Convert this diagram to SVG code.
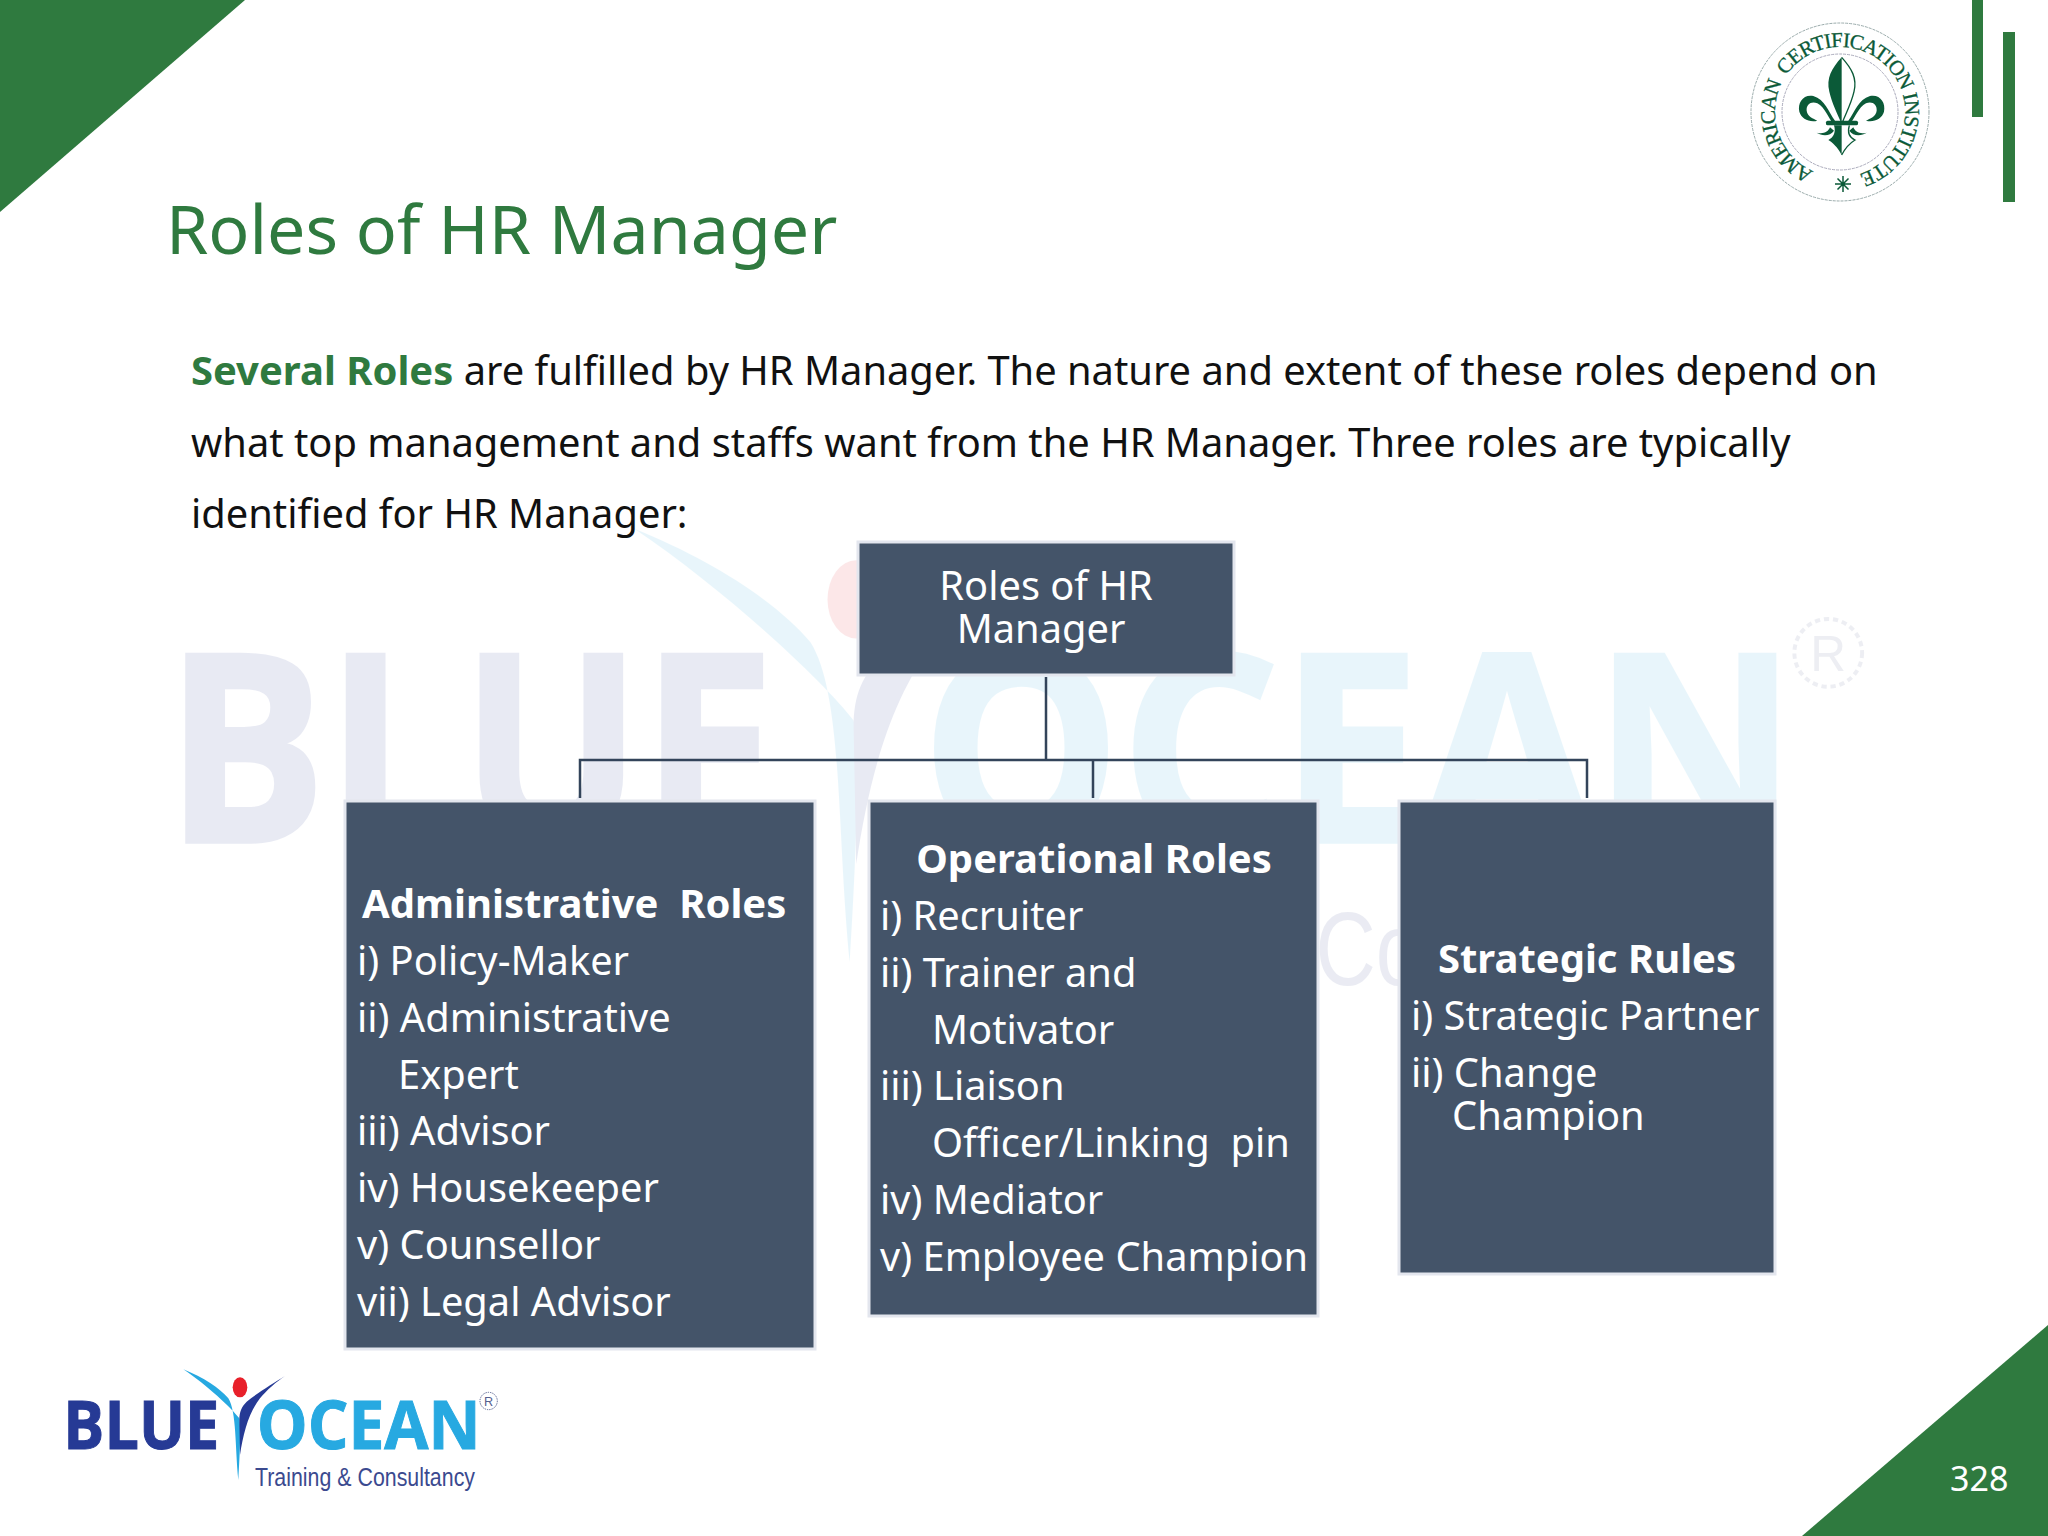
<svg xmlns="http://www.w3.org/2000/svg" xmlns:xlink="http://www.w3.org/1999/xlink" width="2048" height="1536" viewBox="0 0 2048 1536">
<style>
text{font-family:"Noto Sans","Open Sans",sans-serif;white-space:pre}
.g{fill:#2f7a3f}
.title{font-size:68.100px;fill:#2f7a3f}
.body{font-size:39.830px;fill:#111}
.box{fill:#445469;stroke:#e3e6ee;stroke-width:3}
.t{font-size:39.800px;fill:#fff}
.b{font-weight:700;font-size:40px}
.c{text-anchor:middle}
.conn{fill:none;stroke:#33445a;stroke-width:2.500}
.seal{fill:#0b5a38}
.logoB{font-family:"Open Sans",sans-serif;font-weight:700;font-size:201px;stroke-width:3}
</style>
<defs>
<g id="logoArt">
<text class="logoB" x="70" y="328" textLength="468" lengthAdjust="spacingAndGlyphs" fill="#263a95" stroke="#263a95">BLUE</text>
<text class="logoB" x="650" y="328" textLength="672" lengthAdjust="spacingAndGlyphs" fill="#27a9e1" stroke="#27a9e1">OCEAN</text>
<path d="M430 88C490 112 540 145 565 175C590 215 585 320 595 420C600 340 603 260 598 235C575 205 500 135 430 88Z" fill="#27a9e1"/>
<path d="M735 108C700 130 650 160 620 185C605 200 598 215 598 240L600 345C610 280 625 220 660 175C680 150 710 125 735 108Z" fill="#263a95"/>
<ellipse cx="600" cy="142" rx="22" ry="30" fill="#e8202a"/>
<circle cx="1346" cy="183" r="26" fill="none" stroke="#55608f" stroke-width="3" stroke-dasharray="4 3"/>
<text x="1346" y="197" font-size="38" text-anchor="middle" fill="#55608f" style="font-family:'Liberation Sans',sans-serif">R</text>
<text x="645" y="438" font-size="80" textLength="660" lengthAdjust="spacingAndGlyphs" fill="#3b4a8f" style="font-family:'Liberation Sans',sans-serif">Training &amp; Consultancy</text>
</g>
<path id="sealArc" d="M1840 177A65 65 0 1 1 1840.010 177"/>
<g id="scroll">
<path d="M405 362C385 335 375 298 340 288C310 282 292 308 298 335C304 356 328 368 352 362C340 355 322 350 320 332C318 312 335 302 352 310C375 322 385 355 398 368Z" class="seal"/>
<path d="M390 382C385 395 370 404 350 398C365 408 390 410 402 392Z" class="seal"/>
</g>
</defs>
<rect width="2048" height="1536" fill="#fff"/>
<g id="watermark" opacity="0.1" transform="translate(74.400 414.400) scale(1.303)"><use href="#logoArt"/></g>
<polygon class="g" points="0,0 245,0 0,212"/>
<polygon class="g" points="1802,1536 2048,1536 2048,1325"/>
<rect class="g" x="1972" y="0" width="11" height="117"/>
<rect class="g" x="2003" y="32" width="12" height="170"/>
<g id="seal">
<circle cx="1840" cy="112" r="89" fill="#fff" stroke="#9aa" stroke-width="1" stroke-dasharray="3 1"/>
<circle cx="1840" cy="112" r="58" fill="#fff" stroke="#aab" stroke-width="1" stroke-dasharray="3 1"/>
<text font-size="21" class="seal" stroke="#0b5a38" stroke-width="0.300" style="font-family:'Liberation Serif',serif" letter-spacing="-0.9"><textPath href="#sealArc" startOffset="27">AMERICAN  CERTIFICATION INSTITUTE</textPath></text>
<path d="M1843 176v16M1835 184h16M1837.500 178.500l11 11M1848.500 178.500l-11 11" stroke="#0b5a38" stroke-width="1.500"/>
<g transform="translate(1700 0) scale(.33333)">
<path class="seal" d="M425 172C395 205 378 235 388 275C396 310 412 340 422 365H425Z"/>
<path d="M425 172C455 205 472 235 462 275C454 310 438 340 428 365" fill="none" stroke="#0b5a38" stroke-width="4"/>
<rect class="seal" x="378" y="362" width="96" height="14" rx="5"/>
<path class="seal" d="M425 465C412 440 398 428 385 420C402 412 408 396 402 376H425Z"/>
<path d="M425 465C438 440 452 428 465 420C448 412 442 396 448 376" fill="none" stroke="#0b5a38" stroke-width="4"/>
<use href="#scroll"/>
<use href="#scroll" transform="translate(850 0) scale(-1 1)"/>
</g>
</g>
<use id="logo" href="#logoArt" transform="translate(40 1340) scale(.33333)"/>
<text class="title" x="166" y="254">Roles of HR Manager</text>
<text class="body" x="191" y="385"><tspan class="b" fill="#2f7a3f">Several Roles</tspan> are fulfilled by HR Manager. The nature and extent of these roles depend on</text>
<text class="body" x="191" y="457">what top management and staffs want from the HR Manager. Three roles are typically</text>
<text class="body" x="191" y="528">identified for HR Manager:</text>
<g id="connectors">
<path class="conn" d="M1046 677V760M580 798V760H1587V798M1093 760V798"/>
</g>
<g id="root">
<rect class="box" x="858" y="542" width="376" height="133"/>
<text class="t c" x="1046" y="600">Roles of HR</text>
<text class="t c" x="1041" y="643">Manager</text>
</g>
<g id="administrative">
<rect class="box" x="345" y="801" width="470" height="548"/>
<text class="t b" x="362" y="917.500">Administrative  Roles</text>
<text class="t" x="357" y="974.500">i) Policy-Maker</text>
<text class="t" x="357" y="1031.500">ii) Administrative</text>
<text class="t" x="398" y="1088.500">Expert</text>
<text class="t" x="357" y="1145">iii) Advisor</text>
<text class="t" x="357" y="1202">iv) Housekeeper</text>
<text class="t" x="357" y="1259">v) Counsellor</text>
<text class="t" x="357" y="1316">vii) Legal Advisor</text>
</g>
<g id="operational">
<rect class="box" x="869" y="801" width="449" height="515"/>
<text class="t b c" x="1094" y="872.500">Operational Roles</text>
<text class="t" x="880" y="929.500">i) Recruiter</text>
<text class="t" x="880" y="986.500">ii) Trainer and</text>
<text class="t" x="932" y="1043.500">Motivator</text>
<text class="t" x="880" y="1100">iii) Liaison</text>
<text class="t" x="932" y="1157">Officer/Linking  pin</text>
<text class="t" x="880" y="1213.500">iv) Mediator</text>
<text class="t" x="880" y="1270.500">v) Employee Champion</text>
</g>
<g id="strategic">
<rect class="box" x="1399" y="801" width="376" height="473"/>
<text class="t b c" x="1587" y="972.500">Strategic Rules</text>
<text class="t" x="1411" y="1029.500">i) Strategic Partner</text>
<text class="t" x="1411" y="1086.500">ii) Change</text>
<text class="t" x="1452" y="1129.500">Champion</text>
</g>
<text x="1950" y="1491" font-size="34" fill="#fff">328</text>
</svg>
